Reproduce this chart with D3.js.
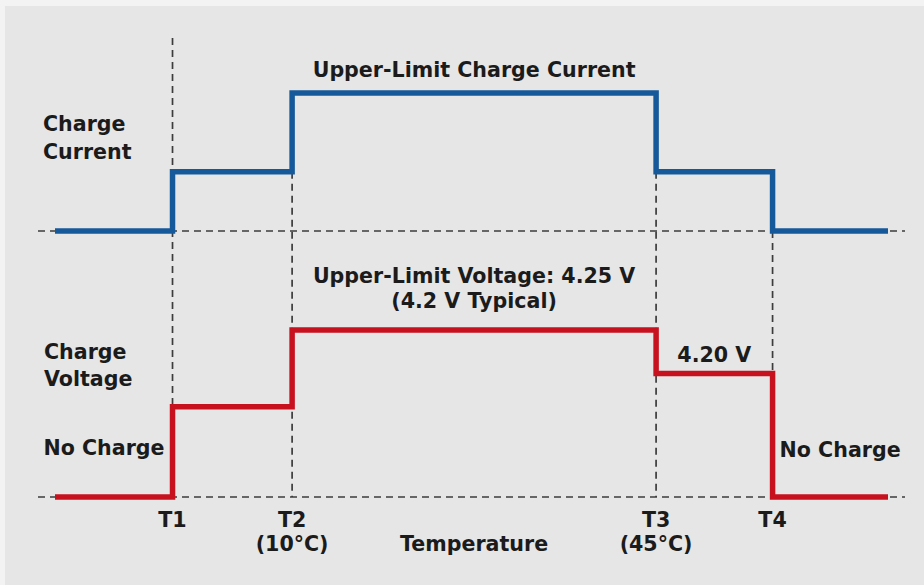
<!DOCTYPE html>
<html>
<head>
<meta charset="utf-8">
<script src="https://cdn.jsdelivr.net/npm/d3@7"></script>
<style>
  html, body { margin: 0; padding: 0; background: #f3f3f3; }
  svg { display: block; }
  text { font-family: "DejaVu Sans", sans-serif; font-weight: bold; fill: #1b1b1b; }
</style>
</head>
<body>
<script>
// temperature breakpoints (°C, estimated), plus where the drawn lines start and end
const breakNames = ['T1', 'T2', 'T3', 'T4'];
const breakTemps = [-1.5, 10, 45, 56.2];
const breakNotes = ['', '(10°C)', '(45°C)', ''];
const tempRange = [-12.8, 67.3];

// levels of each segment: before T1, T1-T2, T2-T3, T3-T4, after T4 (relative, 0 = no charge)
const currentLevels = [0, 0.43, 1, 0.43, 0];
const voltageLevels = [0, 0.54, 1, 0.74, 0];

const W = 924, H = 585;
const blue = '#16599a';
const red = '#c8111f';

const svg = d3.select('body').append('svg')
  .attr('width', W)
  .attr('height', H);

// grey panel
svg.append('rect')
  .attr('x', 5).attr('y', 6)
  .attr('width', W - 5).attr('height', H - 6)
  .attr('fill', '#e6e6e6');

const x = d3.scaleLinear().domain(tempRange).range([55, 888]);
const yCur = d3.scaleLinear().domain([0, 1]).range([231, 93]);
const yVolt = d3.scaleLinear().domain([0, 1]).range([497, 330]);

// step points from the levels
function stepPoints(levels) {
  let pts = [[tempRange[0], levels[0]]];
  breakTemps.forEach((t, i) => pts.push([t, levels[i + 1]]));
  pts.push([tempRange[1], levels[levels.length - 1]]);
  return pts;
}

const grid = svg.append('g')
  .attr('stroke', '#3c3c3c')
  .attr('stroke-width', 1.7)
  .attr('stroke-dasharray', '7,5')
  .attr('fill', 'none');

// horizontal zero lines
[yCur(0), yVolt(0)].forEach((yy) => {
  grid.append('line')
    .attr('x1', 38).attr('x2', 905)
    .attr('y1', yy).attr('y2', yy);
});

// vertical lines at each breakpoint
breakTemps.forEach((t, i) => {
  let top = i === 0 ? 38 : yCur(Math.min(currentLevels[i], currentLevels[i + 1]));
  grid.append('line')
    .attr('x1', x(t)).attr('x2', x(t))
    .attr('y1', top).attr('y2', yVolt(0));
});

// the two step lines
function drawStep(levels, yScale, color) {
  let line = d3.line()
    .x((d) => x(d[0]))
    .y((d) => yScale(d[1]))
    .curve(d3.curveStepAfter);
  svg.append('path')
    .attr('d', line(stepPoints(levels)))
    .attr('fill', 'none')
    .attr('stroke', color)
    .attr('stroke-width', 5.5)
    .attr('stroke-linejoin', 'miter')
    .attr('stroke-linecap', 'butt');
}
drawStep(currentLevels, yCur, blue);
drawStep(voltageLevels, yVolt, red);

// labels
const fs = 20.6;
function label(txt, xx, yy, anchor) {
  svg.append('text')
    .attr('x', xx).attr('y', yy)
    .attr('font-size', fs)
    .attr('text-anchor', anchor || 'middle')
    .text(txt);
}

const midTop = (x(breakTemps[1]) + x(breakTemps[2])) / 2;
label('Upper-Limit Charge Current', midTop, yCur(1) - 16);
label('Upper-Limit Voltage: 4.25 V', midTop, yVolt(1) - 47);
label('(4.2 V Typical)', midTop, yVolt(1) - 22);
label('4.20 V', (x(breakTemps[2]) + x(breakTemps[3])) / 2, yVolt(voltageLevels[3]) - 11);

label('Charge', 43, 131, 'start');
label('Current', 43, 159, 'start');
label('Charge', 44, 359, 'start');
label('Voltage', 44, 386, 'start');
label('No Charge', x(breakTemps[0]) - 8, 455, 'end');
label('No Charge', x(breakTemps[3]) + 7, 457, 'start');

breakNames.forEach((n, i) => {
  label(n, x(breakTemps[i]), yVolt(0) + 30);
  if (breakNotes[i]) label(breakNotes[i], x(breakTemps[i]), yVolt(0) + 54);
});
label('Temperature', midTop, yVolt(0) + 54);
</script>
</body>
</html>
